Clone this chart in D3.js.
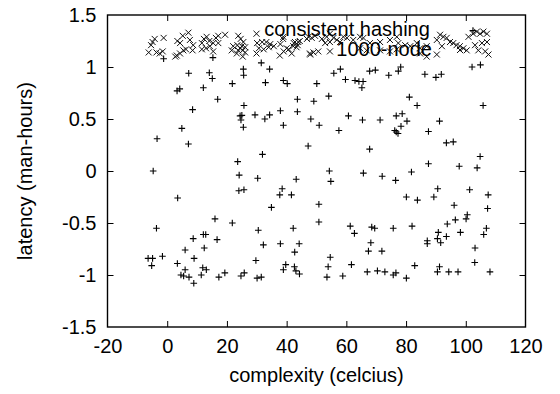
<!DOCTYPE html>
<html>
<head>
<meta charset="utf-8">
<script src="https://cdn.jsdelivr.net/npm/d3@7"></script>
<style>
  html, body { margin: 0; padding: 0; background: #fff; }
  svg { display: block; font-family: "Liberation Sans", Arial, sans-serif; }
</style>
</head>
<body>
<div id="chart"></div>
<script>
// axis ticks
const xTicks = [-20, 0, 20, 40, 60, 80, 100, 120];
const yTicks = [-1.5, -1, -0.5, 0, 0.5, 1, 1.5];

// "+" series (no key entry)
const plusPts = [
  [7.2,0.94],[14.1,0.945],[15.1,0.89],[25.5,0.98],[25.6,0.92],[3.3,0.77],[4.2,0.79],[12.1,0.80],
  [21.8,0.84],[16.9,0.69],[25.7,0.63],[8.5,0.59],[24.4,0.53],[25.0,0.535],[24.7,0.49],[25.5,0.42],
  [4.9,0.41],[-3.4,0.31],[7.1,0.26],[23.6,0.09],[-4.7,0.0],[24.1,-0.04],[-1.2,1.08],[15.3,1.09],
  [31.5,1.04],[34.3,0.98],[32.9,0.85],[38.9,0.87],[40.2,0.84],[50.1,0.84],[55.8,0.94],[58.0,0.98],
  [59.7,0.88],[62.9,0.87],[64.2,0.86],[65.6,0.86],[65.2,0.80],[67.8,0.96],[69.7,0.97],[54.1,0.72],
  [43.6,0.69],[49.1,0.67],[29.4,0.54],[32.7,0.50],[34.3,0.54],[37.9,0.58],[43.6,0.57],[38.9,0.44],
  [48.1,0.50],[50.9,0.44],[60.7,0.53],[65.4,0.49],[71.3,0.49],[57.5,0.39],[47.2,0.24],[31.9,0.16],
  [67.8,0.21],[30.3,-0.07],[43.2,-0.08],[54.3,0.0],[54.8,-0.10],[65.7,-0.02],[72.0,-0.05],
  [74.2,0.92],[77.4,0.96],[78.2,1.0],[86.3,0.93],[90.0,0.90],[91.8,0.93],[102.1,1.0],[104.9,1.02],
  [81.1,0.71],[83.7,0.63],[105.8,0.63],[76.7,0.53],[78.7,0.55],[80.3,0.48],[78.3,0.43],[76.2,0.39],
  [76.7,0.375],[77.3,0.36],[91.2,0.48],[87.5,0.38],[93.5,0.27],[95.8,0.28],[104.8,0.14],[87.5,0.07],
  [97.8,0.045],[103.8,0.03],[81.8,-0.01],[76.5,-0.09],[102.4,1.35],
  [3.5,-0.26],[24.0,-0.19],[25.7,-0.18],[16.0,-0.46],[21.8,-0.50],[-3.6,-0.55],[8.7,-0.65],[12.1,-0.61],
  [12.9,-0.61],[16.7,-0.66],[12.4,-0.74],[6.0,-0.76],[-6.4,-0.84],[-4.9,-0.84],[-1.6,-0.82],[-5.2,-0.91],
  [3.4,-0.89],[9.0,-0.84],[6.0,-0.95],[4.6,-1.0],[5.5,-1.01],[7.3,-1.02],[8.9,-1.08],[11.4,-1.0],
  [11.9,-0.93],[13.1,-0.95],[17.3,-1.02],[19.3,-0.98],[24.7,-1.01],[25.8,-0.98],
  [38.5,-0.17],[37.7,-0.23],[41.6,-0.23],[34.9,-0.35],[50.8,-0.32],[50.8,-0.49],[30.5,-0.57],[42.2,-0.55],
  [61.3,-0.53],[62.7,-0.60],[68.5,-0.54],[69.5,-0.55],[32.2,-0.71],[37.9,-0.70],[44.2,-0.70],[42.7,-0.78],
  [68.2,-0.69],[67.4,-0.77],[71.9,-0.77],[29.7,-0.86],[39.7,-0.90],[38.9,-0.95],[42.6,-0.92],[43.1,-0.96],
  [44.3,-0.99],[54.6,-0.83],[53.9,-0.92],[53.5,-1.02],[58.8,-1.01],[61.7,-0.90],[30.1,-1.03],[31.5,-1.02],
  [67.0,-0.97],[70.4,-0.96],[72.9,-0.97],
  [90.6,-0.17],[101.3,-0.18],[80.1,-0.25],[83.8,-0.28],[89.3,-0.25],[107.5,-0.23],[96.1,-0.33],[107.3,-0.36],
  [100.5,-0.42],[100.1,-0.46],[96.5,-0.47],[93.8,-0.51],[75.7,-0.55],[82.0,-0.53],[90.8,-0.59],[93.5,-0.63],
  [98.2,-0.59],[106.9,-0.55],[106.0,-0.61],[87.1,-0.67],[87.1,-0.70],[90.5,-0.65],[91.6,-0.69],[103.1,-0.74],
  [103.0,-0.88],[82.9,-0.91],[91.2,-0.92],[90.5,-0.97],[94.3,-0.97],[97.4,-0.97],[108.1,-0.97],[75.7,-1.0],
  [76.6,-0.98],[80.1,-1.03]
];

// "x" series: 1000-node
const crossPts = [
  [-4.2,1.27],[-4.9,1.24],[-5.4,1.21],[-6.2,1.14],[-3.6,1.14],[-2.5,1.13],[-1.5,1.15],[-1.2,1.28],
  [3.4,1.25],[4.3,1.23],[5.2,1.30],[7.1,1.33],[7.6,1.26],[5.4,1.16],[6.3,1.17],[4.3,1.13],[3.2,1.11],
  [8.7,1.21],[8.5,1.16],[2.7,1.10],
  [11.6,1.23],[12.3,1.27],[13.2,1.29],[11.6,1.17],[13.0,1.18],[14.3,1.20],[15.4,1.23],[16.3,1.28],
  [17.1,1.30],[17.1,1.23],[15.4,1.15],[19.4,1.31],[14.1,1.25],
  [23.8,1.30],[24.6,1.27],[25.5,1.24],[22.1,1.20],[23.5,1.21],[25.0,1.20],[26.1,1.19],[21.6,1.16],
  [23.8,1.16],[25.3,1.16],[23.3,1.13],[26.1,1.14],[25.3,1.10],[24.4,1.18],
  [29.9,1.32],[30.1,1.23],[31.8,1.24],[33.2,1.24],[34.5,1.22],[30.7,1.18],[32.3,1.17],[34.0,1.19],
  [35.7,1.20],[29.9,1.13],[37.9,1.22],[38.8,1.27],[39.0,1.15],[40.7,1.17],[37.7,1.11],[42.4,1.23],
  [43.3,1.19],[44.4,1.25],[43.7,1.21],[47.9,1.12],[46.8,1.27],
  [38.9,1.29],[40.0,1.18],[42.2,1.20],[42.8,1.24],[43.9,1.24],[41.7,1.13],[47.3,1.29],[48.4,1.28],
  [49.5,1.30],[47.8,1.13],[49.0,1.14],[50.6,1.15],[54.5,1.15],[51.8,1.27],[53.4,1.29],[54.5,1.32],
  [55.7,1.28],[56.8,1.26],[57.9,1.24],[59.0,1.29],[60.2,1.28],[54.5,1.24],[52.9,1.23],[62.3,1.26],
  [64.6,1.29],[65.7,1.28],[67.9,1.23],[71.3,1.24],[74.6,1.26],[76.9,1.29],[77.4,1.23],[79.7,1.21],
  [81.4,1.20],[83.6,1.23],[64.6,1.18],[71.3,1.16],[76.9,1.17],[84.7,1.18],[86.9,1.20],[90.3,1.12],
  [91.4,1.31],[92.5,1.29],[93.6,1.28],[94.7,1.24],[95.8,1.23],[96.9,1.21],[98.0,1.20],[99.2,1.18],
  [100.3,1.16],[100.9,1.29],[102.5,1.32],[103.7,1.34],[104.8,1.32],[105.9,1.34],[107.1,1.32],[105.4,1.23],
  [107.1,1.24],[107.6,1.12],[106.5,1.15],[104.2,1.16],[103.1,1.21],[90.3,1.26],[92.0,1.20],[66.8,1.16],
  [74.6,1.15],[84.7,1.13],[86.9,1.10]
];

const keyTitle = 'consistent hashing';
const keyLabel = '1000-node';
const xLabel = 'complexity (celcius)';
const yLabel = 'latency (man-hours)';

const width = 560, height = 394;
const margin = { top: 15, right: 34.5, bottom: 67, left: 107.5 };
const innerWidth = width - margin.left - margin.right;
const innerHeight = height - margin.top - margin.bottom;
const fontFamily = '"Liberation Sans", Arial, sans-serif';
const fontSize = 20;
const tickLen = 6;

const svg = d3.select('#chart')
  .append('svg')
  .attr('width', width)
  .attr('height', height);

const g = svg.append('g')
  .attr('transform', `translate(${margin.left},${margin.top})`);

const xScale = d3.scaleLinear().domain([-20, 120]).range([0, innerWidth]);
const yScale = d3.scaleLinear().domain([-1.5, 1.5]).range([innerHeight, 0]);

// gnuplot style: inward ticks mirrored on all four sides, plain hyphen minus
const fmt = d => String(d);
const styleAxis = sel => {
  sel.attr('font-family', fontFamily).attr('font-size', fontSize);
  sel.select('.domain').remove();
  sel.selectAll('.tick line').attr('stroke', '#000').attr('stroke-width', 1);
  sel.selectAll('.tick text').attr('fill', '#000');
};
const noLabels = sel => sel.selectAll('.tick text').remove();

g.append('g')
  .attr('transform', `translate(0,${innerHeight})`)
  .call(d3.axisBottom(xScale).tickValues(xTicks).tickSize(-tickLen).tickPadding(12).tickFormat(fmt))
  .call(styleAxis)
  .call(s => s.selectAll('text').attr('dy', '0.71em'));

g.append('g')
  .call(d3.axisTop(xScale).tickValues(xTicks).tickSize(-tickLen))
  .call(styleAxis)
  .call(noLabels);

g.append('g')
  .call(d3.axisLeft(yScale).tickValues(yTicks).tickSize(-tickLen).tickPadding(11).tickFormat(fmt))
  .call(styleAxis);

g.append('g')
  .attr('transform', `translate(${innerWidth},0)`)
  .call(d3.axisRight(yScale).tickValues(yTicks).tickSize(-tickLen))
  .call(styleAxis)
  .call(noLabels);

// skip the end ticks that coincide with the frame corners
g.selectAll('.tick').filter(d => d === -20 || d === 120 || d === -1.5 || d === 1.5)
  .select('line').remove();

// frame
g.append('rect')
  .attr('width', innerWidth)
  .attr('height', innerHeight)
  .attr('fill', 'none')
  .attr('stroke', '#000')
  .attr('stroke-width', 1.4);

// markers
const plusPath = s => `M${-s},0H${s}M0,${-s}V${s}`;
const crossPath = s => `M${-s},${-s}L${s},${s}M${-s},${s}L${s},${-s}`;

g.append('g')
  .selectAll('path')
  .data(plusPts)
  .join('path')
  .attr('transform', d => `translate(${xScale(d[0])},${yScale(d[1])})`)
  .attr('d', plusPath(3.3))
  .attr('fill', 'none')
  .attr('stroke', '#000')
  .attr('stroke-width', 1.1);

g.append('g')
  .selectAll('path')
  .data(crossPts)
  .join('path')
  .attr('transform', d => `translate(${xScale(d[0])},${yScale(d[1])})`)
  .attr('d', crossPath(3))
  .attr('fill', 'none')
  .attr('stroke', '#111')
  .attr('stroke-width', 1);

// key
svg.append('text')
  .attr('x', 347)
  .attr('y', 36)
  .attr('text-anchor', 'middle')
  .style('font-size', fontSize + 'px')
  .text(keyTitle);

svg.append('text')
  .attr('x', 432)
  .attr('y', 56)
  .attr('text-anchor', 'end')
  .style('font-size', fontSize + 'px')
  .text(keyLabel);

svg.append('path')
  .attr('transform', 'translate(460,50)')
  .attr('d', crossPath(3))
  .attr('fill', 'none')
  .attr('stroke', '#111')
  .attr('stroke-width', 1);

// axis labels
svg.append('text')
  .attr('x', margin.left + innerWidth / 2)
  .attr('y', 382)
  .attr('text-anchor', 'middle')
  .style('font-size', fontSize + 'px')
  .text(xLabel);

svg.append('text')
  .attr('transform', `translate(32,${margin.top + innerHeight / 2}) rotate(-90)`)
  .attr('text-anchor', 'middle')
  .style('font-size', fontSize + 'px')
  .text(yLabel);
</script>
</body>
</html>
